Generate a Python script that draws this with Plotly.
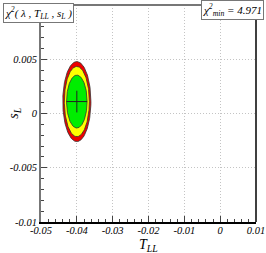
import numpy as np
import plotly.graph_objects as go

# Best-fit point and contour half-widths (T_LL, s_L)
center_T = -0.0400
center_s = 0.0011
contour_names = ["3sigma", "2sigma", "1sigma"]
contour_dT = [0.00393, 0.00349, 0.00287]
contour_ds = [0.00369, 0.00324, 0.00244]
contour_colors = ["#ee0000", "#ffff00", "#00ee00"]
cross_dT = 0.00287
cross_ds = 0.0010
chi2_min = 4.971

x_ticks = [-0.05, -0.04, -0.03, -0.02, -0.01, 0, 0.01]
x_labels = ["-0.05", "-0.04", "-0.03", "-0.02", "-0.01", "0", "0.01"]
y_ticks = [-0.01, -0.005, 0, 0.005, 0.01]
y_labels = ["-0.01", "-0.005", "0", "0.005", ""]

FONT = "Liberation Serif"

fig = go.Figure()
t = np.linspace(0, 2 * np.pi, 200)
for name, dT, ds, col in zip(contour_names, contour_dT, contour_ds, contour_colors):
    fig.add_trace(go.Scatter(
        x=center_T + dT * np.cos(t), y=center_s + ds * np.sin(t),
        mode="lines", fill="toself", fillcolor=col,
        line=dict(color="#333333", width=0.8), name=name, hoverinfo="skip"))

fig.add_trace(go.Scatter(
    x=[center_T], y=[center_s], mode="markers",
    marker=dict(size=0.1, color="black"),
    error_x=dict(type="constant", value=cross_dT, color="#222222", thickness=1, width=0),
    error_y=dict(type="constant", value=cross_ds, color="#222222", thickness=1, width=0)))

common = dict(
    showline=True, mirror=False, ticks="inside", automargin=False,
    tickfont=dict(family=FONT, size=10.5, color="black"),
    showgrid=True, gridcolor="#c4c4c4", griddash="1px,2px", gridwidth=1,
    zeroline=False, tickcolor="#444", ticklen=6, tickangle=0,
)

fig.update_layout(
    width=266, height=253,
    margin=dict(l=41, r=10, t=5, b=31, autoexpand=False),
    paper_bgcolor="white", plot_bgcolor="white",
    showlegend=False,
    font=dict(family=FONT, color="black"),
    xaxis=dict(range=[-0.05, 0.01], tickvals=x_ticks, ticktext=[f"<i>{s}</i>" for s in x_labels],
               linecolor="black", linewidth=1.5, ticklabelstandoff=-2,
               minor=dict(ticks="inside", ticklen=3, tickcolor="#444", dtick=0.002, showgrid=False),
               **common),
    yaxis=dict(range=[-0.01, 0.01], tickvals=y_ticks, ticktext=[f"<i>{s}</i>" for s in y_labels],
               linecolor="#777777", linewidth=2,
               minor=dict(ticks="inside", ticklen=3, tickcolor="#444", dtick=0.001, showgrid=False),
               **common),
)

# top (gray) and right (black) frame lines
fig.add_shape(type="line", xref="paper", yref="paper", x0=0, x1=1, y0=1, y1=1,
              line=dict(color="#777777", width=2))
fig.add_shape(type="line", xref="paper", yref="paper", x0=1, x1=1, y0=0, y1=1,
              line=dict(color="black", width=1.5))

# axis titles
fig.add_annotation(xref="paper", yref="paper", x=0.5, y=-0.06, xanchor="center", yanchor="top",
                   text="<i>T<sub>LL</sub></i>", showarrow=False,
                   font=dict(family=FONT, size=14, color="black"))
fig.add_annotation(xref="paper", yref="paper", x=-0.125, y=0.5, xanchor="center", yanchor="middle",
                   text="<i>s<sub>L</sub></i>", showarrow=False, textangle=-90,
                   font=dict(family=FONT, size=14, color="black"))

fig.add_annotation(xref="paper", yref="paper", x=-0.177, y=1.009, xanchor="left", yanchor="top",
                   text="<i>χ<sup>2</sup>( λ , T<sub>LL</sub> , s<sub>L</sub> )</i>",
                   showarrow=False, font=dict(family=FONT, size=11, color="black"),
                   bgcolor="white", bordercolor="#777777", borderwidth=1, borderpad=1)
fig.add_annotation(xref="paper", yref="paper", x=1.037, y=1.023, xanchor="right", yanchor="top",
                   text=f"<i>χ<sup>2</sup><sub>min</sub> = {chi2_min}</i>",
                   showarrow=False, font=dict(family=FONT, size=11, color="black"),
                   bgcolor="white", bordercolor="#777777", borderwidth=1, borderpad=1)

fig.write_html("out.html", config={"displayModeBar": False},
               post_script="document.body.style.margin='0';document.body.style.padding='0';"
                           "document.body.style.overflow='hidden';")
